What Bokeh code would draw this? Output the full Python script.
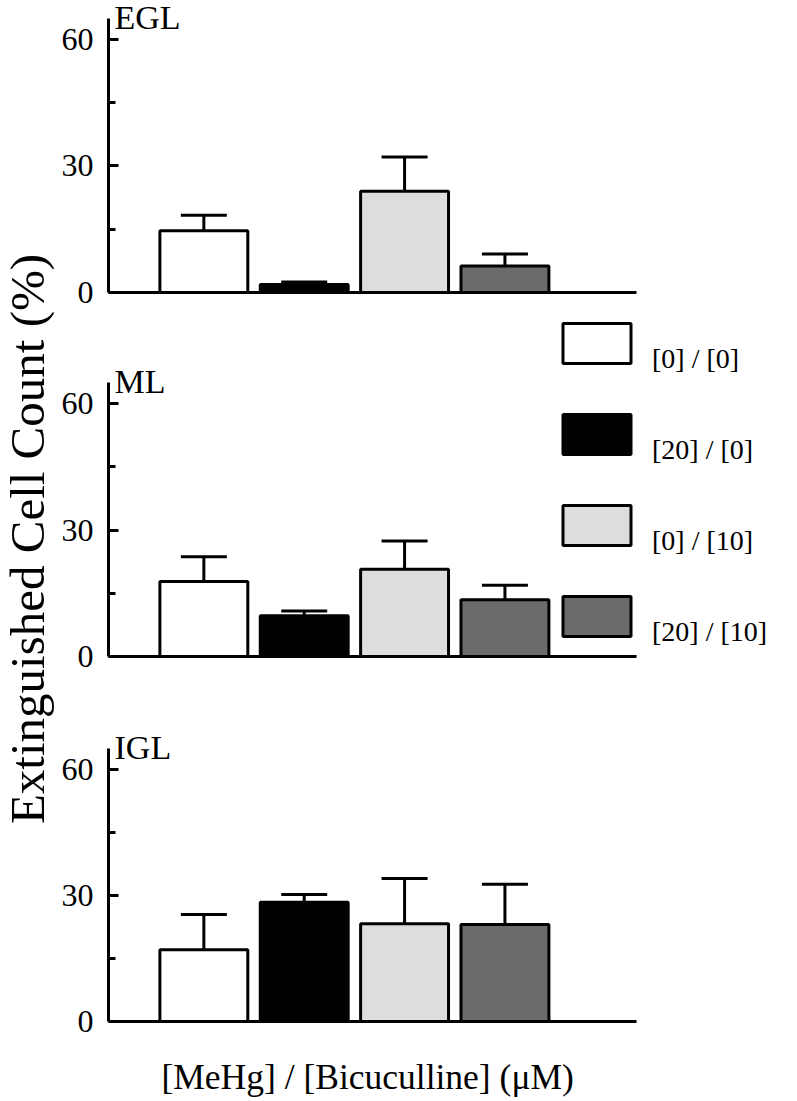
from math import pi
from bokeh.plotting import figure
from bokeh.models import (Range1d, FixedTicker, Whisker, TeeHead, ColumnDataSource,
                          Label, Legend, LegendItem, LinearAxis)
from bokeh.core.properties import value
from bokeh.layouts import row, column
from bokeh.embed import file_html
from bokeh.resources import INLINE

# ---------------- data ----------------
conditions = ["[0] / [0]", "[20] / [0]", "[0] / [10]", "[20] / [10]"]
colors = ["#ffffff", "#000000", "#dddddd", "#6b6b6b"]
layers = ["EGL", "ML", "IGL"]
egl_mean = [14.6, 1.9, 24.0, 6.3]
egl_err = [3.7, 0.6, 8.1, 2.8]
ml_mean = [17.8, 9.7, 20.7, 13.5]
ml_err = [5.9, 1.1, 6.7, 3.4]
igl_mean = [17.1, 28.4, 23.3, 23.1]
igl_err = [8.4, 1.9, 10.8, 9.6]
y_ticks = [0, 30, 60]
y_minor_ticks = [15, 45]
y_label = "Extinguished Cell Count (%)"
x_label = "[MeHg] / [Bicuculline] (μM)"

FONT = "Liberation Serif"
positions = list(range(1, len(conditions) + 1))
X_START, X_END = 0.05, 6.905
X_AXIS_END = 5.313
BAR_W = 0.876
FIG_W = 738


def base_fig(height, y_end, border_bottom):
    p = figure(width=FIG_W, height=height,
               x_range=Range1d(X_START, X_END), y_range=Range1d(0, y_end),
               output_backend="svg", toolbar_location=None,
               min_border_left=49, min_border_right=0,
               min_border_top=0, min_border_bottom=border_bottom,
               x_axis_type=None, y_axis_type=None)
    p.outline_line_color = None
    p.background_fill_color = "white"
    return p


def panel(name, means, errs, height, y_end, border_bottom, legend=False):
    p = base_fig(height, y_end, border_bottom)

    yaxis = LinearAxis(ticker=FixedTicker(ticks=y_ticks, minor_ticks=y_minor_ticks),
                       bounds=(0, 65),
                       axis_line_width=3, axis_line_color="black",
                       major_tick_in=10, major_tick_out=0, major_tick_line_width=3,
                       minor_tick_in=7, minor_tick_out=0, minor_tick_line_width=3,
                       major_label_standoff=15,
                       major_label_text_font=FONT, major_label_text_font_size="32px",
                       major_label_text_color="black")
    p.add_layout(yaxis, "left")

    xaxis = LinearAxis(ticker=FixedTicker(ticks=[]), bounds=(X_START, X_AXIS_END),
                       axis_line_width=3, axis_line_color="black",
                       major_tick_in=0, major_tick_out=0,
                       minor_tick_in=0, minor_tick_out=0,
                       major_label_standoff=0, major_label_text_font_size="0px")
    p.add_layout(xaxis, "below")

    renderers = []
    for i in range(len(conditions)):
        src = ColumnDataSource(dict(x=[positions[i]], top=[means[i]],
                                    upper=[means[i] + errs[i]]))
        r = p.vbar(x="x", top="top", bottom=0, width=BAR_W, source=src,
                   fill_color=colors[i], line_color="black", line_width=3)
        renderers.append(r)
        p.add_layout(Whisker(source=src, base="x", lower="top", upper="upper",
                             dimension="height", line_width=3, line_color="black",
                             upper_head=TeeHead(size=46, line_width=3, line_color="black"),
                             lower_head=None))

    p.add_layout(Label(x=X_START, y=65.2, x_offset=6, text=name,
                       text_font=FONT, text_font_size="34px",
                       text_baseline="alphabetic", text_color="black"))

    if legend:
        # a leading empty line drops each label slightly below its swatch, as in the original
        leg = Legend(items=[LegendItem(label=value("\n" + c), renderers=[r])
                            for c, r in zip(conditions, renderers)],
                     location=(446, 8.5), orientation="vertical",
                     glyph_width=85, glyph_height=50, spacing=27,
                     label_standoff=13, padding=0, margin=0,
                     border_line_color=None, background_fill_alpha=0,
                     label_text_font=FONT, label_text_font_size="28px",
                     label_text_baseline="middle", label_text_color="black")
        p.add_layout(leg, "center")
    return p


f1 = panel(layers[0], egl_mean, egl_err, 312, 69.15, 20)
f2 = panel(layers[1], ml_mean, ml_err, 363, 81.68, 19, legend=True)
f3 = panel(layers[2], igl_mean, igl_err, 365, 82.48, 19)

# x-axis title, centred under the drawn axis line
fx = base_fig(60, 60, 0)
fx.add_layout(Label(x=(X_START + X_AXIS_END) / 2, y=23.5, x_offset=-5, text=x_label,
                    text_align="center", text_baseline="middle",
                    text_font=FONT, text_font_size="35.5px", text_color="black"))

lab = figure(width=58, height=1100, x_range=Range1d(0, 58), y_range=Range1d(0, 1100),
             output_backend="svg", toolbar_location=None, min_border=0,
             x_axis_type=None, y_axis_type=None)
lab.outline_line_color = None
lab.add_layout(Label(x=27, y=561.5, x_units="screen", y_units="screen",
                     text=y_label, angle=pi / 2, text_align="center",
                     text_baseline="alphabetic", text_font=FONT,
                     text_font_size="49px", text_color="black"))

layout = row(lab, column(f1, f2, f3, fx))
open("out.html", "w").write(file_html(layout, INLINE))
